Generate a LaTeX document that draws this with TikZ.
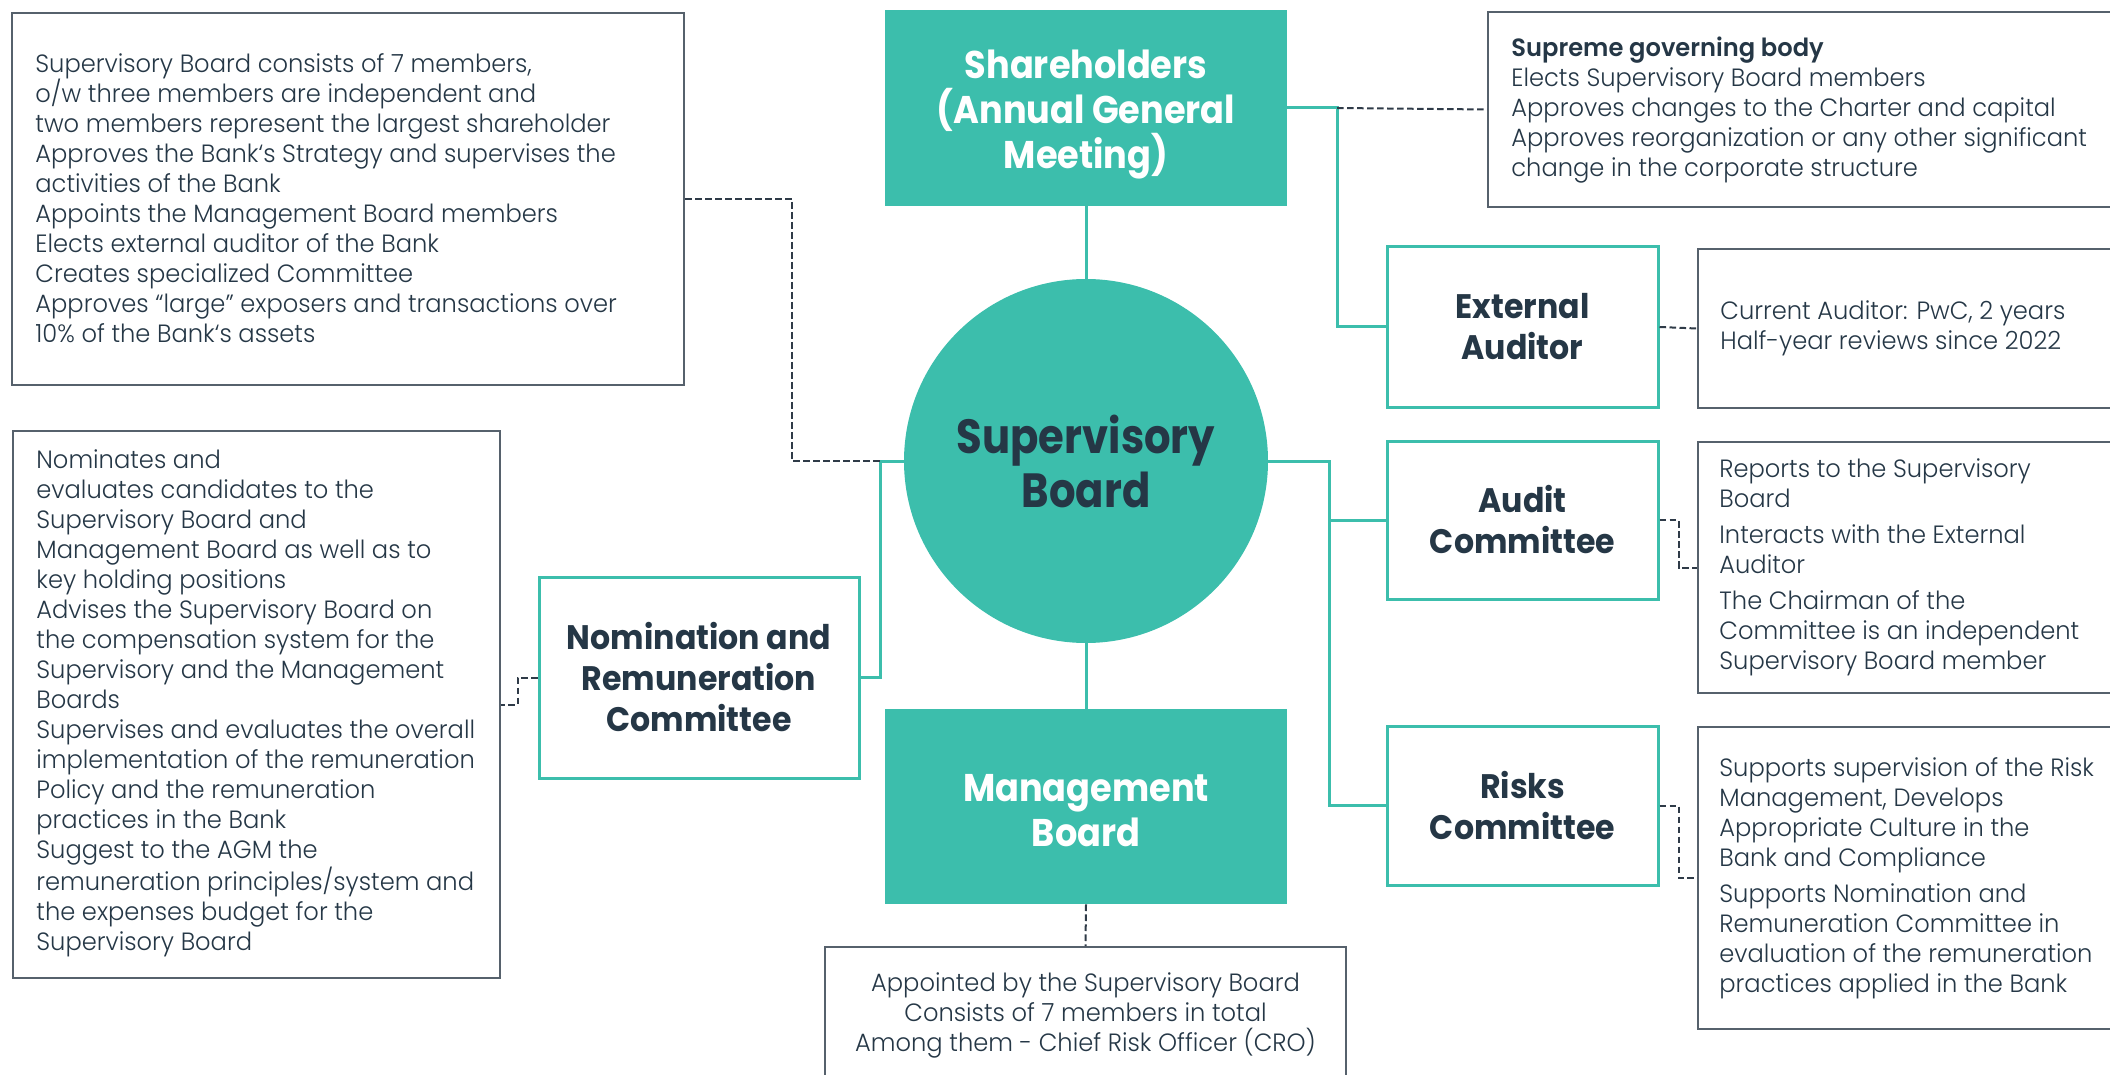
\documentclass[tikz,border=0pt]{standalone}
\usepackage{fontspec}
\setmainfont{Poppins}[FakeStretch=0.967, UprightFont=* Light, BoldFont=* SemiBold]
\newfontfamily\wfont{Poppins}[FakeStretch=0.91]
\newfontfamily\dfont{Poppins}[FakeStretch=0.93]
\newfontfamily\cfont{Poppins}[FakeStretch=0.87]
\newcommand\bq{\symbol{"60}}
\definecolor{teal1}{HTML}{3CBEAC}
\definecolor{ink}{HTML}{253746}
\definecolor{frame}{HTML}{56616C}
\definecolor{dashc}{HTML}{2F3B48}
\tikzset{
  gbox/.style={draw=frame, line width=1pt, inner sep=0pt, anchor=north west},
  body/.style={font=\fontsize{12.5}{15}\selectfont, text=ink, align=left, inner sep=0pt, anchor=west},
  tbox/.style={draw=teal1, line width=1.5pt, inner sep=0pt, align=center, text=ink,
     font=\dfont\fontsize{17}{20.5}\selectfont\bfseries},
  fbox/.style={fill=teal1, draw=none, inner sep=0pt},
  wlab/.style={align=center, text=white, font=\wfont\fontsize{19.3}{22.5}\selectfont\bfseries},
  tline/.style={draw=teal1, line width=1.5pt},
  dline/.style={draw=dashc, line width=1pt, dash pattern=on 3.3pt off 1.7pt},
}
\begin{document}
\begin{tikzpicture}[x=0.5pt,y=-0.5pt]
\useasboundingbox (0,0) rectangle (2110,1075);
% description boxes
\node[gbox, minimum width=336pt, minimum height=186pt] (tl) at (11,12) {};
\node[gbox, minimum width=243.5pt, minimum height=273.5pt] (bl) at (12,430) {};
\node[gbox, minimum width=330pt, minimum height=97.5pt] (tr) at (1487,11) {};
\node[gbox, minimum width=220pt, minimum height=79.5pt] (ead) at (1697,248) {};
\node[gbox, minimum width=220pt, minimum height=125.5pt] (ad) at (1697,441) {};
\node[gbox, minimum width=220pt, minimum height=151pt] (rd) at (1697,726) {};
\node[gbox, minimum width=260.5pt, minimum height=68pt, anchor=center] (bd) at (1085.5,1015) {};
% main nodes
\node[fbox, minimum width=201pt, minimum height=98pt,
      label={[wlab, yshift=-3.5pt]center:Shareholders\\(Annual General\\Meeting)}] (sh) at (1086,108) {};
\node[circle, fill=teal1, minimum size=182pt, inner sep=0pt, text=ink, align=center,
      font=\cfont\fontsize{24}{27}\selectfont\bfseries] (sb) at (1086,461) {Supervisory\\Board};
\node[fbox, minimum width=201pt, minimum height=97.5pt,
      label={[wlab, yshift=-2pt]center:Management\\Board}] (mb) at (1086,806.5) {};
\node[tbox, minimum width=135.5pt, minimum height=80pt] (ea) at (1522.5,327) {External\\Auditor};
\node[tbox, minimum width=135.5pt, minimum height=79pt] (ac) at (1522.5,520) {Audit\\Committee};
\node[tbox, minimum width=135.5pt, minimum height=79.5pt] (rc) at (1522.5,805.5) {Risks\\Committee};
\node[tbox, minimum width=160pt, minimum height=100.5pt] (nrc) at (699,677.5) {Nomination and\\Remuneration\\Committee};
% texts
\node[body] (tlt) at (35,198) {Supervisory Board consists of 7 members,\\o/w three members are independent and\\two members represent the largest shareholder\\Approves the Bank\bq s Strategy and supervises the\\activities of the Bank\\Appoints the Management Board members\\Elects external auditor of the Bank\\Creates specialized Committee\\Approves “large” exposers and transactions over\\10\% of the Bank\bq s assets};
\node[body] (blt) at (36,703) {Nominates and\\evaluates candidates to the\\Supervisory Board and\\Management Board as well as to\\key holding positions\\Advises the Supervisory Board on\\the compensation system for the\\Supervisory and the Management\\Boards\\Supervises and evaluates the overall\\implementation of the remuneration\\Policy and the remuneration\\practices in the Bank\\Suggest to the AGM the\\remuneration principles/system and\\the expenses budget for the\\Supervisory Board};
\node[body] (trt) at (1511,110) {\textbf{Supreme governing body}\\Elects Supervisory Board members\\Approves changes to the Charter and capital\\Approves reorganization or any other significant\\change in the corporate structure};
\node[body] (eat) at (1720,328) {Current Auditor: PwC, 2 years\\Half-year reviews since 2022};
\node[body] (adt) at (1719,567) {Reports to the Supervisory\\Board\\[3pt]Interacts with the External\\Auditor\\[3pt]The Chairman of the\\Committee is an independent\\Supervisory Board member};
\node[body] (rdt) at (1719,878) {Supports supervision of the Risk\\Management, Develops\\Appropriate Culture in the\\Bank and Compliance\\[3pt]Supports Nomination and\\Remuneration Committee in\\evaluation of the remuneration\\practices applied in the Bank};
\node[body, anchor=center, align=center] (bdt) at (1085.5,1015) {Appointed by the Supervisory Board\\Consists of 7 members in total\\Among them - Chief Risk Officer (CRO)};
% junctions
\coordinate (j1) at (1337,108);
\coordinate (j2) at (1329,461);
\coordinate (j3) at (880,461);
\coordinate (j4) at (792,461);
% teal connectors
\draw[tline] (sh.south) -- (sb.north);
\draw[tline] (sb.south) -- (mb.north);
\draw[tline] (sh.east) -- (j1) |- (ea.west);
\draw[tline] (sb.east) -- (j2) |- (ac.west);
\draw[tline] (j2) |- (rc.west);
\draw[tline] (sb.west) -- (j3) |- (nrc.east);
% dashed connectors
\draw[dline] (j1) -- (tr.west);
\draw[dline] (tl.east) -| (j4) -- (j3);
\draw[dline] (nrc.west) -- ++(-20,0) |- (bl.east);
\draw[dline] (ea.east) -- (ead.west);
\draw[dline] (ac.east) -- ++(19,0) |- (ad.west);
\draw[dline] (rc.east) -- ++(19,0) |- (rd.west);
\draw[dline] (mb.south) -- (bd.north);
\end{tikzpicture}
\end{document}
